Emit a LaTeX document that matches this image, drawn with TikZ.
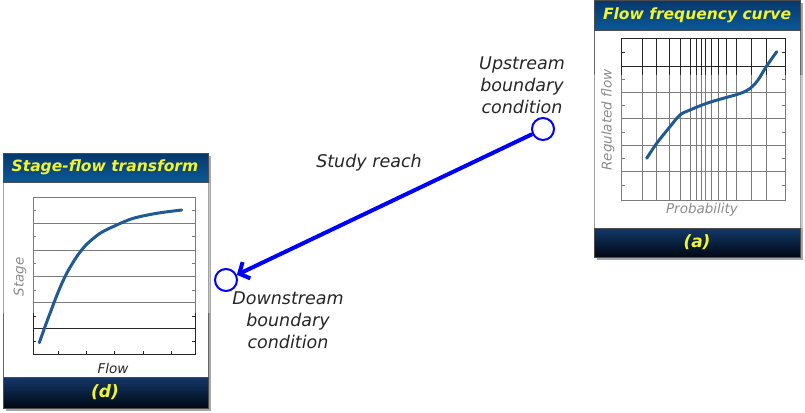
\documentclass[tikz,border=0pt]{standalone}
\usepackage{fontspec}
\setmainfont{DejaVu Sans}
\usetikzlibrary{arrows.meta}
\definecolor{bartop}{HTML}{06386C}
\definecolor{barmid}{HTML}{0A64A8}
\definecolor{barbot}{HTML}{0A5898}
\definecolor{foottop}{HTML}{14386A}
\definecolor{footmid}{HTML}{1262A4}
\definecolor{footbot}{HTML}{000814}
\definecolor{titleyel}{HTML}{F4F42A}
\definecolor{curveblue}{HTML}{1F5A94}
\tikzset{
  titlebar/.style={draw=black!70, top color=bartop, middle color=barmid, bottom color=barbot},
  footbar/.style={draw=black!70, top color=foottop, middle color=footmid, bottom color=footbot},
  ttl/.style={text=titleyel, font=\fontsize{15.5}{18}\selectfont\bfseries\itshape},
  capt/.style={ttl, font=\fontsize{17}{20}\selectfont\bfseries\itshape},
  axlab/.style={text=black!45, font=\fontsize{13.5}{16}\selectfont\itshape},
  lab/.style={text=black!85, align=center, font=\fontsize{17.5}{22}\selectfont\itshape},
  gridline/.style={draw=black!85, line width=0.8pt},
  curve/.style={draw=curveblue, line width=3pt, line cap=round},
  bc/.style={circle, draw=blue, line width=2pt, fill=white, minimum size=22pt, inner sep=0pt},
  reach/.style={draw=blue, line width=4pt, -{Straight Barb[length=8pt,width=18pt]}},
}

\begin{document}
\begin{tikzpicture}[x=1pt, y=-1pt]
  \useasboundingbox (0,0) rectangle (805,412);

  % panel (a): flow frequency curve
  \fill[black!35] (597,3) rectangle (803,260);
  \draw[black!60, fill=white] (594,0.5) rectangle (800,257);
  \draw[titlebar] (594,0.5) rectangle (800,30);
  \node[ttl] (ttla) at (697,15) {Flow frequency curve};
  \foreach \x in {642.7,656.7,669.3,680,690,696.7,701.7,705,711.7,718.3,726.7,736.7,751.7,766.7}
    \draw[gridline] (\x,38.3) -- (\x,200);
  \foreach \y in {66.7,92,118.3,145,171.7}
    \draw[gridline] (621.7,\y) -- (785,\y);
  \foreach \y in {52.5,79,105,132,158,185}{
    \draw[gridline] (621.7,\y) -- +(3,0);
    \draw[gridline] (785,\y) -- +(-3,0);}
  \draw[gridline] (621.7,38.3) rectangle (785,200);
  \fill[white, opacity=0.4] (592,75) rectangle (805,228);
  \draw[curve] plot[smooth, tension=0.6] coordinates {(646.7,158.3) (656.7,143.3) (670,126.7) (680,115)
    (690,110) (706.7,103.3) (723.3,98.3) (740,93.5) (750,88.5) (758,80) (766,67) (776.7,51.7)};
  \node[axlab, rotate=90] (ylaba) at (608,120) {Regulated flow};
  \node[axlab] (xlaba) at (702,210) {Probability};
  \draw[footbar] (594,228) rectangle (800,257);
  \node[capt] (capa) at (697,242.5) {(a)};

  % panel (d): stage-flow transform
  \fill[black!35] (6,156) rectangle (211,411);
  \draw[black!60, fill=white] (3,153) rectangle (208,408);
  \draw[titlebar] (3,153) rectangle (208,182);
  \node[ttl] (ttld) at (105,167.5) {Stage-flow transform};
  \foreach \y in {223,250,276,302,328}
    \draw[gridline] (33,\y) -- (195,\y);
  \foreach \y in {210,236.7,263.3,290,316.7,341.7}{
    \draw[gridline] (33,\y) -- +(3,0);
    \draw[gridline] (195,\y) -- +(-3,0);}
  \foreach \x in {58,86,114,143,171}
    \draw[gridline] (\x,354) -- +(0,-3);
  \draw[gridline] (33,197) rectangle (195,354);
  \fill[white, opacity=0.4] (1,183) rectangle (210,313);
  \draw[curve] plot[smooth] coordinates {(39.3,342.7) (45,326.7) (50,313.3) (58.3,291.7)
    (66.7,273.3) (76.7,256.7) (86,245) (100,233.3) (116.7,225) (133.3,218.3) (156.7,213.3) (181.7,210)};
  \node[axlab, rotate=90] (ylabd) at (20,277) {Stage};
  \node[axlab, text=black!85] (xlabd) at (113,368) {Flow};
  \draw[footbar] (3,377) rectangle (208,408);
  \node[capt] (capd) at (105,392.5) {(d)};

  % study reach
  \node[bc] (up) at (543,129) {};
  \node[bc] (down) at (226,280) {};
  \draw[reach] (up) -- (down);
  \node[lab] (uplab) at (522,85) {Upstream\\boundary\\condition};
  \node[lab] (downlab) at (288,320) {Downstream\\boundary\\condition};
  \node[lab] (reachlab) at (369,163) {Study reach};
\end{tikzpicture}
\end{document}
